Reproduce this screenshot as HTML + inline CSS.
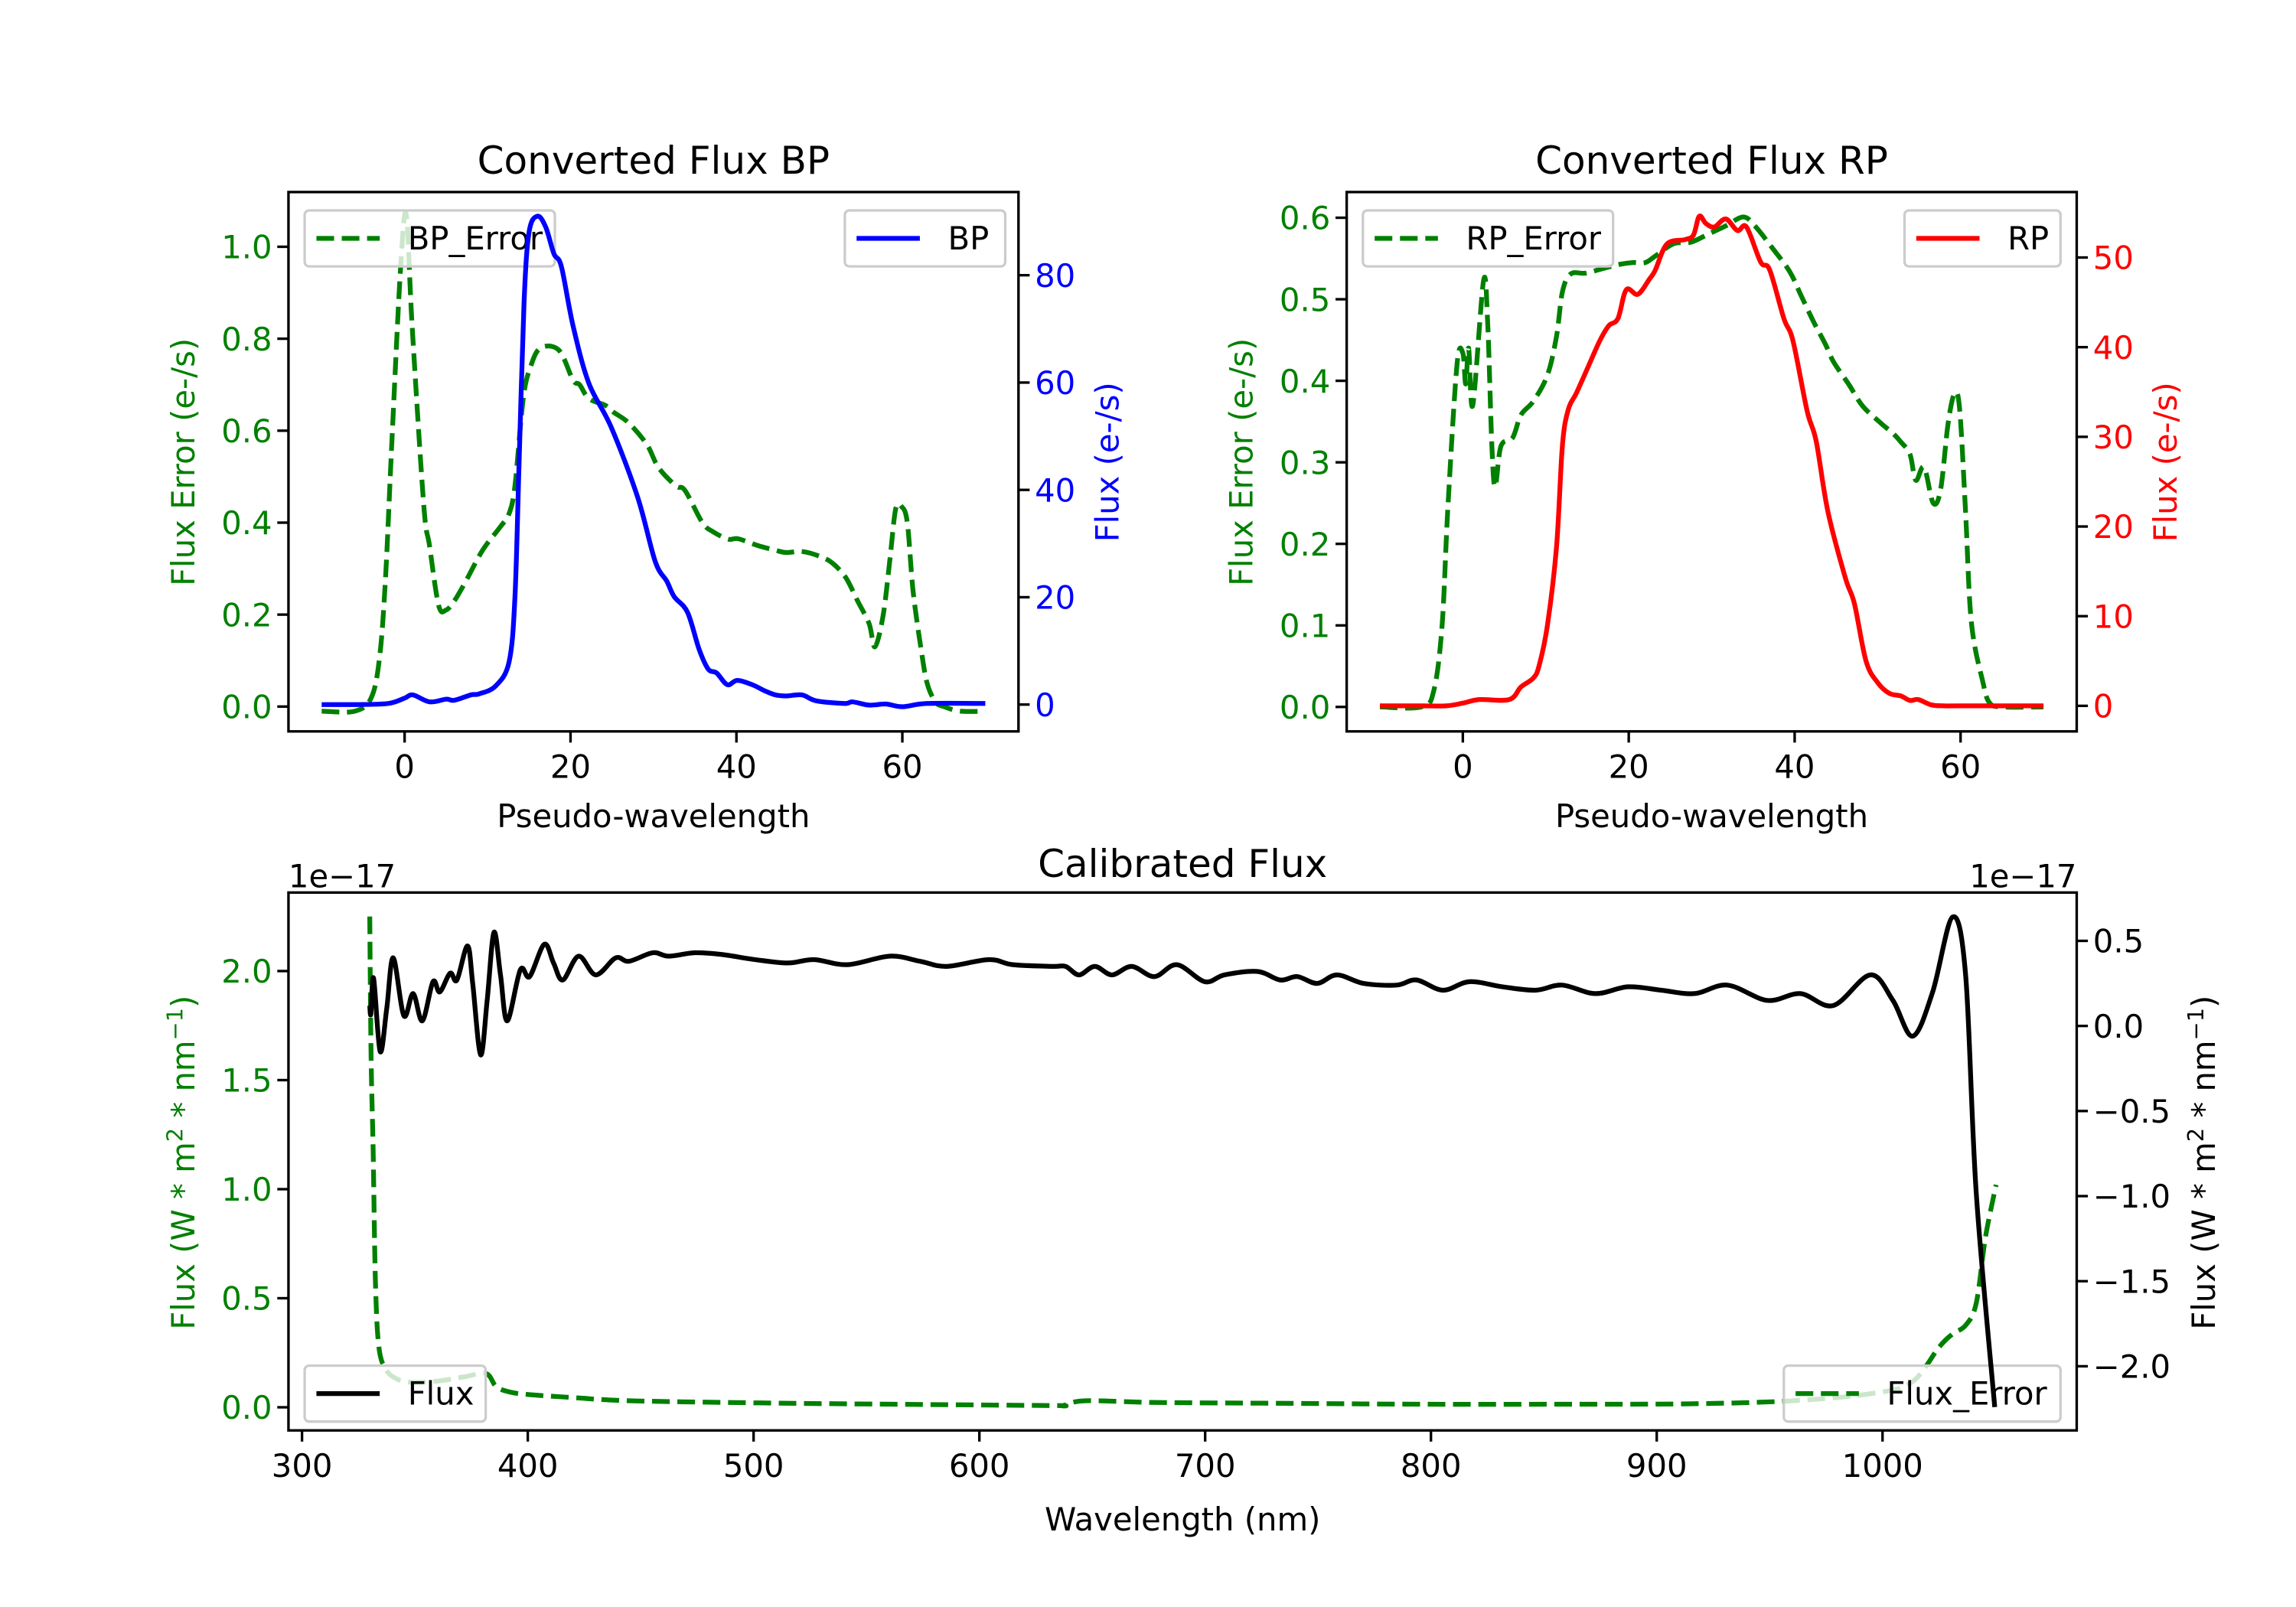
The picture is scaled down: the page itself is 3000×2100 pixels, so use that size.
<!DOCTYPE html>
<html><head><meta charset="utf-8"><style>
html,body{margin:0;padding:0;background:#fff;}
svg{display:block;font-family:"DejaVu Sans","Liberation Sans",sans-serif;}
</style></head><body>
<svg id="fig" xmlns="http://www.w3.org/2000/svg" width="3000" height="2100" viewBox="0 0 1560 1092">
<rect x="0" y="0" width="1560" height="1092" fill="#fff"/>
</svg>
<script>
// ---------- BP panel data ----------
const bpX = [-10,-6,-2,0,1,3,5,6,8,9,11,12.6,13.3,13.8,14.4,15,16,17,18,18.9,20.3,22.2,24.9,28.1,30.2,31.6,32.5,34.1,35.5,36.6,37.6,38.9,40.1,41.9,43.5,44.7,46,47.9,49.6,53,54,56,58,60,63,70];
const bpFlux = [0,0,0.2,1.2,1.8,0.5,1,0.8,1.8,2,3.5,8,20,45,75,88,91,89,84,81.6,70.6,59.9,51.7,38.6,26.7,23,20.1,17.2,10.3,6.6,5.9,3.7,4.5,3.7,2.5,1.8,1.6,1.8,0.7,0.2,0.5,-0.1,0.1,-0.4,0.2,0.2];
const bpErrX = [-10,-6,-4,-3,-2.3,-1.55,-0.5,0.2,0.9,2.3,3.0,4.1,5.0,6,7.3,9.4,11.5,12.6,13.3,14.3,15.2,16.4,18.6,20.3,21.1,22.2,24.2,25.2,27,29.2,30.6,32.7,33.8,35.9,37.2,39,40.2,42.6,44.7,46,48,50.3,51.7,53.2,54.6,56,56.7,57.7,58.5,59.2,59.9,60.6,61.3,62.3,63,64,65,67,70];
const bpErr = [-0.01,-0.01,0.02,0.11,0.28,0.57,0.95,1.07,0.83,0.44,0.35,0.22,0.21,0.23,0.27,0.34,0.39,0.42,0.48,0.67,0.74,0.78,0.775,0.71,0.7,0.67,0.655,0.64,0.617,0.57,0.52,0.48,0.47,0.40,0.38,0.364,0.365,0.35,0.34,0.335,0.337,0.325,0.31,0.28,0.23,0.18,0.13,0.2,0.32,0.43,0.435,0.4,0.25,0.12,0.05,0.01,0,-0.01,-0.01];
// ---------- RP panel data ----------
const rpX = [-10,-5,-2,0,2,5.6,7,8.5,9.2,10.2,11.3,12,12.7,13.7,15.1,16.5,17.6,18.7,19.7,21.1,22.5,23.2,24.6,26.8,27.8,28.5,29.3,30.3,31.7,33.1,34.2,35.9,37,38.7,39.8,41.5,42.6,44,46.1,47.2,48.6,50,51.4,52.8,53.9,54.9,56.5,58,60,70];
const rpFlux = [0,0,0,0.3,0.7,0.7,2.1,3.1,4.5,9,17.8,29,33,34.9,37.8,40.7,42.4,43.2,46.4,45.9,47.6,48.6,51.5,52,52.5,54.6,53.8,53.4,54.3,53,53.4,49.5,48.6,43.2,40.7,32.9,29.5,21.7,14.3,11.4,5,2.6,1.4,1.1,0.6,0.7,0.1,0,0,0];
const rpErrX = [-10,-5,-3.5,-2.5,-1.8,-0.7,0,0.35,0.7,1.2,2.5,3,3.5,3.9,4.6,6,7,8.5,10.2,11.3,12,13,14.8,17,19,20.5,22,23.2,25.4,27.5,29.6,31.7,33.8,35.2,37.3,39.4,40.8,42.3,43.7,44.7,46.5,48.2,50.4,51.8,52.8,53.9,54.6,55.6,56.7,57.6,58.5,59.3,59.9,60.6,61.3,62.7,63.5,65,70];
const rpErr = [0,0,0.02,0.1,0.245,0.42,0.434,0.396,0.44,0.37,0.523,0.47,0.32,0.27,0.32,0.33,0.358,0.375,0.407,0.455,0.509,0.531,0.532,0.538,0.543,0.545,0.545,0.553,0.568,0.57,0.58,0.59,0.601,0.59,0.563,0.534,0.504,0.472,0.445,0.423,0.396,0.369,0.348,0.336,0.325,0.31,0.278,0.294,0.25,0.267,0.348,0.385,0.364,0.24,0.104,0.03,0.005,0,0];
// ---------- Calibrated flux data (units 1e-17) ----------
const calX = [330,330.5,331.7,334.6,337.5,340.4,345.1,349.2,353.3,358,361,365.6,368.6,373.3,375.6,379.1,382,385,387.9,390.9,396.7,400.8,407.3,411.4,415.5,422.5,430.1,438.9,444.8,455.3,462.4,474,485.8,500.5,515.1,526.8,541.5,560.3,573.7,585.5,604.2,614.8,632.4,638.2,644.1,651.1,658.7,667.5,677.5,687.5,699.8,708.6,723.2,733.2,740.8,749.6,758.4,770.1,784.8,793.6,805.3,817,831.7,846.3,858.1,872.7,887.3,902,916.7,931.3,948.9,963.6,978.2,994.6,1004.6,1013.4,1022.2,1031,1036.8,1041.5,1049.7];
const calFlux = [0.12,0.07,0.28,-0.15,0.1,0.40,0.06,0.19,0.03,0.26,0.2,0.31,0.27,0.47,0.25,-0.17,0.15,0.55,0.3,0.03,0.33,0.29,0.48,0.37,0.27,0.41,0.30,0.40,0.38,0.43,0.41,0.43,0.42,0.39,0.37,0.39,0.36,0.41,0.38,0.35,0.39,0.36,0.35,0.35,0.30,0.35,0.30,0.35,0.29,0.36,0.26,0.30,0.32,0.27,0.29,0.25,0.30,0.25,0.24,0.27,0.21,0.26,0.23,0.21,0.24,0.19,0.23,0.21,0.19,0.24,0.15,0.19,0.12,0.30,0.15,-0.06,0.20,0.64,0.30,-0.98,-2.24];
const errX = [330,330.6,331.5,332.5,334,337,342,348,360,372,381.5,386,392,400.8,421,445,503,562,632,637,647,679,738,796,855,914,960.6,995.8,1013,1025,1031,1036.8,1041.5,1045.6,1050.3];
const errVal = [2.25,1.6,1.18,0.58,0.28,0.175,0.13,0.115,0.12,0.14,0.155,0.095,0.07,0.058,0.044,0.03,0.02,0.014,0.008,0.008,0.03,0.022,0.018,0.014,0.014,0.016,0.03,0.064,0.115,0.275,0.336,0.376,0.477,0.78,1.02];
// ---------- tick labels ----------
const topXTicks = [0,20,40,60];
const bpLeftTicks = [0,0.2,0.4,0.6,0.8,1.0];
const bpRightTicks = [0,20,40,60,80];
const rpLeftTicks = [0,0.1,0.2,0.3,0.4,0.5,0.6];
const rpRightTicks = [0,10,20,30,40,50];
const botXTicks = [300,400,500,600,700,800,900,1000];
const botLeftTicks = [0,0.5,1.0,1.5,2.0];
const botRightTicks = [-2.0,-1.5,-1.0,-0.5,0,0.5];

const NS="http://www.w3.org/2000/svg";
const fig=document.getElementById('fig');
function el(tag,attrs,parent,text){const e=document.createElementNS(NS,tag);for(const k in attrs)e.setAttribute(k,attrs[k]);if(text!==undefined)e.textContent=text;(parent||fig).appendChild(e);return e;}
function lin(d0,d1,r0,r1){return v=>r0+(v-d0)/(d1-d0)*(r1-r0);}
function fmt(v,dec){let s=v.toFixed(dec);return s.replace('-','\u2212');}
function pathD(xs,ys,sx,sy){
  const P=xs.map((x,i)=>[sx(x),sy(ys[i])]);
  let d='M'+P[0][0].toFixed(2)+','+P[0][1].toFixed(2);
  for(let i=0;i<P.length-1;i++){
    const p0=P[Math.max(0,i-1)],p1=P[i],p2=P[i+1],p3=P[Math.min(P.length-1,i+2)];
    const c1=[p1[0]+(p2[0]-p0[0])/6,p1[1]+(p2[1]-p0[1])/6];
    const c2=[p2[0]-(p3[0]-p1[0])/6,p2[1]-(p3[1]-p1[1])/6];
    d+='C'+c1[0].toFixed(2)+','+c1[1].toFixed(2)+' '+c2[0].toFixed(2)+','+c2[1].toFixed(2)+' '+p2[0].toFixed(2)+','+p2[1].toFixed(2);
  }
  return d;
}
const FS=21.7, TL=7.6, LW=3.25, AW=1.73;
let clipN=0;
function makeClip(x0,y0,x1,y1){const id='c'+(clipN++);const cp=el('clipPath',{id:id});el('rect',{x:x0,y:y0,width:x1-x0,height:y1-y0},cp);return id;}
function line(g,xs,ys,sx,sy,color,dashed,clip,name){
  const p=el('path',{d:pathD(xs,ys,sx,sy),fill:'none',stroke:color,'stroke-width':LW,'stroke-linejoin':'round','clip-path':'url(#'+clip+')'},g);
  if(dashed)p.setAttribute('stroke-dasharray','12,5.2');
  
  
}
function legend(g,x,y,w,label,color,dashed,name){
  const lg=el('g',{},g);
  
  
  el('rect',{x:x,y:y,width:w,height:38,rx:3,fill:'#fff','fill-opacity':0.8,stroke:'#cccccc','stroke-width':1.7},lg);
  const l=el('line',{x1:x+8,y1:y+19,x2:x+51,y2:y+19,stroke:color,'stroke-width':LW},lg);
  if(dashed)l.setAttribute('stroke-dasharray','12,5.2');
  el('text',{x:x+70,y:y+26.5,'font-size':FS,fill:'#000'},lg,label);
}
function xTicks(g,ticks,sx,yb,dec){
  ticks.forEach(t=>{const x=sx(t);
    el('line',{x1:x,y1:yb,x2:x,y2:yb+TL,stroke:'#000','stroke-width':AW},g);
    const tx=el('text',{x:x,y:yb+TL+24,'font-size':FS,'text-anchor':'middle'},g,fmt(t,dec));
    
    
  });
}
function yTicks(g,ticks,sy,xb,side,color,dec){
  ticks.forEach(t=>{const y=sy(t);
    el('line',{x1:xb,y1:y,x2:xb+(side<0?-TL:TL),y2:y,stroke:'#000','stroke-width':AW},g);
    const tx=el('text',{x:xb+(side<0?-TL-3.5:TL+3.5),y:y+7.9,'font-size':FS,'text-anchor':side<0?'end':'start',fill:color},g,fmt(t,dec));
    
    
  });
}
function frame(g,x0,y0,x1,y1){el('rect',{x:x0,y:y0,width:x1-x0,height:y1-y0,fill:'none',stroke:'#000','stroke-width':AW},g);}
function vlabel(g,x,y,text,color,name){const t=el('text',{x:x,y:y,'font-size':FS,'text-anchor':'middle',fill:color,transform:'rotate(-90 '+x+' '+y+')'},g,text);
  
  
  return t;}
function title(g,x,y,text,name){const t=el('text',{x:x,y:y,'font-size':26,'text-anchor':'middle'},g,text);
  
  }

const TOP0=130.5, TOP1=497;
// ================= BP panel =================
(function(){
  const g=el('g',{});
  
  
  const X0=196,X1=692;
  const sx=lin(-14,74,X0,X1);
  const syL=lin(-0.054,1.119,TOP1,TOP0);
  const syR=lin(-5,95.5,TOP1,TOP0);
  const clip=makeClip(X0,TOP0,X1,TOP1);
  line(g,bpErrX,bpErr,sx,syL,'#008000',true,clip,'bp-error-line');
  legend(g,207,143,170,'BP_Error','#008000',true,'bp-error-legend');
  line(g,bpX,bpFlux,sx,syR,'#0000ff',false,clip,'bp-flux-line');
  legend(g,574,143,109,'BP','#0000ff',false,'bp-legend');
  frame(g,X0,TOP0,X1,TOP1);
  xTicks(g,topXTicks,sx,TOP1,0);
  yTicks(g,bpLeftTicks,syL,X0,-1,'#008000',1);
  yTicks(g,bpRightTicks,syR,X1,1,'#0000ff',0);
  title(g,(X0+X1)/2,118,'Converted Flux BP','bp-title');
  const xl=el('text',{x:(X0+X1)/2,y:562,'font-size':FS,'text-anchor':'middle'},g,'Pseudo-wavelength');
  
  
  vlabel(g,132,314,'Flux Error (e-/s)','#008000','bp-left-y-axis-title');
  vlabel(g,760,314,'Flux (e-/s)','#0000ff','bp-right-y-axis-title');
})();
// ================= RP panel =================
(function(){
  const g=el('g',{});
  
  
  const X0=915,X1=1411;
  const sx=lin(-14,74,X0,X1);
  const syL=lin(-0.030,0.6315,TOP1,TOP0);
  const syR=lin(-2.85,57.3,TOP1,TOP0);
  const clip=makeClip(X0,TOP0,X1,TOP1);
  line(g,rpErrX,rpErr,sx,syL,'#008000',true,clip,'rp-error-line');
  legend(g,926,143,170,'RP_Error','#008000',true,'rp-error-legend');
  line(g,rpX,rpFlux,sx,syR,'#ff0000',false,clip,'rp-flux-line');
  legend(g,1294,143,106,'RP','#ff0000',false,'rp-legend');
  frame(g,X0,TOP0,X1,TOP1);
  xTicks(g,topXTicks,sx,TOP1,0);
  yTicks(g,rpLeftTicks,syL,X0,-1,'#008000',1);
  yTicks(g,rpRightTicks,syR,X1,1,'#ff0000',0);
  title(g,(X0+X1)/2,118,'Converted Flux RP','rp-title');
  const xl=el('text',{x:(X0+X1)/2,y:562,'font-size':FS,'text-anchor':'middle'},g,'Pseudo-wavelength');
  
  
  vlabel(g,851,314,'Flux Error (e-/s)','#008000','rp-left-y-axis-title');
  vlabel(g,1479,314,'Flux (e-/s)','#ff0000','rp-right-y-axis-title');
})();
// ================= Calibrated panel =================
(function(){
  const g=el('g',{});
  
  
  const X0=196,X1=1411,Y0=606.5,Y1=972;
  const sx=lin(294,1086,X0,X1);
  const syL=lin(-0.106,2.36,Y1,Y0);
  const syR=lin(-2.377,0.784,Y1,Y0);
  const clip=makeClip(X0,Y0,X1,Y1);
  line(g,errX,errVal,sx,syL,'#008000',true,clip,'flux-error-line');
  legend(g,1212,928,188,'Flux_Error','#008000',true,'flux-error-legend');
  line(g,calX,calFlux,sx,syR,'#000000',false,clip,'flux-line');
  legend(g,207,928,123,'Flux','#000000',false,'flux-legend');
  frame(g,X0,Y0,X1,Y1);
  xTicks(g,botXTicks,sx,Y1,0);
  yTicks(g,botLeftTicks,syL,X0,-1,'#008000',1);
  yTicks(g,botRightTicks,syR,X1,1,'#000000',1);
  title(g,(X0+X1)/2,596,'Calibrated Flux','calibrated-title');
  const o1=el('text',{x:196,y:603,'font-size':FS},g,'1e\u221217');
  
  
  const o2=el('text',{x:1411,y:603,'font-size':FS,'text-anchor':'end'},g,'1e\u221217');
  
  
  const xl=el('text',{x:(X0+X1)/2,y:1040,'font-size':FS,'text-anchor':'middle'},g,'Wavelength (nm)');
  
  
  function unitLabel(x,color,name){
    const t=vlabel(g,x,790,'',color,name);
    t.appendChild(document.createTextNode('Flux (W * m'));
    const s1=document.createElementNS(NS,'tspan');s1.setAttribute('dy','-8');s1.setAttribute('font-size','15');s1.textContent='2';t.appendChild(s1);
    const s2=document.createElementNS(NS,'tspan');s2.setAttribute('dy','8');s2.textContent=' * nm';t.appendChild(s2);
    const s3=document.createElementNS(NS,'tspan');s3.setAttribute('dy','-8');s3.setAttribute('font-size','15');s3.textContent='\u22121';t.appendChild(s3);
    const s4=document.createElementNS(NS,'tspan');s4.setAttribute('dy','8');s4.textContent=')';t.appendChild(s4);
  }
  unitLabel(132,'#008000','calibrated-left-y-axis-title');
  unitLabel(1505,'#000000','calibrated-right-y-axis-title');
})();
</script>
</body></html>
